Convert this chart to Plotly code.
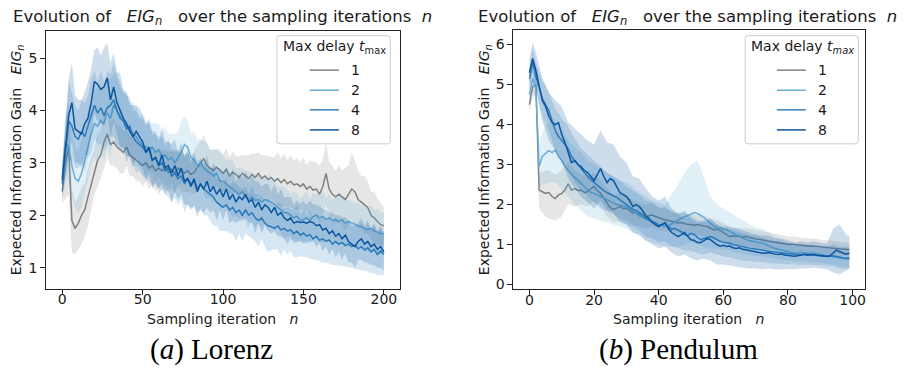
import plotly.graph_objects as go

W, H = 904, 368

# ---------------- Lorenz (x = 0..200 step 2) ----------------
lorenz_x = list(range(0, 201, 2))

lorenz_t1 = [2.45, 3.0, 3.3, 1.9, 1.75, 1.85, 2.0, 2.1, 2.35, 2.6,
             2.85, 3.05, 3.15, 3.4, 3.55, 3.35, 3.4, 3.3, 3.25, 3.2,
             3.3, 3.15, 3.1, 3.05, 3.0, 2.95, 3.0, 2.9, 2.95, 2.85,
             2.9, 2.85, 2.9, 2.82, 2.88, 2.8, 2.9, 2.85, 2.8, 2.85,
             2.78, 2.82, 2.9, 3.0, 3.08, 2.95, 2.9, 2.85, 2.92, 2.85,
             2.8, 2.88, 2.75, 2.82, 2.78, 2.72, 2.8, 2.75, 2.7, 2.78,
             2.72, 2.8, 2.7, 2.75, 2.68, 2.72, 2.65, 2.7, 2.62, 2.68,
             2.6, 2.65, 2.58, 2.6, 2.55, 2.6, 2.5, 2.55, 2.48, 2.5,
             2.4, 2.55, 2.8, 2.5, 2.4, 2.35, 2.4, 2.35, 2.3, 2.4,
             2.5, 2.45, 2.3, 2.25, 2.2, 2.15, 2.0, 1.95, 1.88, 1.82,
             1.8]
lorenz_t2 = [2.73, 3.4, 3.3, 2.95, 2.7, 2.65, 2.8, 3.05, 3.35, 3.55,
             3.75, 3.7, 3.8, 3.75, 3.95, 3.85, 4.1, 4.0, 3.9, 3.8,
             3.7, 3.65, 3.55, 3.5, 3.4, 3.35, 3.3, 3.25, 3.3, 3.2,
             3.25, 3.1, 3.15, 3.05, 3.1, 3.0, 3.1, 3.2, 3.35, 3.3,
             3.1, 3.05, 2.95, 3.0, 2.9, 2.85, 2.8, 2.75, 2.8, 2.65,
             2.65, 2.6, 2.55, 2.5, 2.45, 2.4, 2.45, 2.35, 2.3, 2.35,
             2.28, 2.3, 2.25, 2.3, 2.28, 2.25, 2.2, 2.15, 2.1, 2.05,
             2.05, 2.0, 1.95, 1.98, 1.9, 1.92, 1.95, 1.9, 1.98, 2.0,
             1.95, 1.98, 1.92, 1.95, 1.9, 1.92, 1.88, 1.92, 1.85, 1.88,
             1.85, 1.82, 1.8, 1.78, 1.75, 1.72, 1.75, 1.7, 1.68, 1.65,
             1.65]
lorenz_t4 = [2.6, 3.2, 3.8, 3.7, 3.5, 3.45, 3.6, 3.5, 3.7, 3.9,
             4.1, 3.95, 4.05, 3.9, 4.05, 4.1, 4.2, 4.0, 3.85, 3.8,
             3.65, 3.7, 3.5, 3.4, 3.35, 3.3, 3.2, 3.25, 3.05, 3.1,
             2.95, 3.0, 2.85, 2.9, 2.75, 2.8, 2.7, 2.75, 2.6, 2.7,
             2.6, 2.65, 2.5, 2.6, 2.5, 2.45, 2.4, 2.35, 2.25, 2.2,
             2.15, 2.2, 2.1, 2.15, 2.05, 2.1, 2.0, 2.1, 2.0, 2.05,
             1.95, 1.9, 1.95, 1.85, 1.8, 1.78, 1.75, 1.8, 1.72, 1.75,
             1.7, 1.72, 1.65, 1.7, 1.62, 1.66, 1.6, 1.63, 1.55, 1.6,
             1.52, 1.55, 1.5, 1.53, 1.45, 1.5, 1.45, 1.48, 1.42, 1.45,
             1.4, 1.43, 1.36, 1.4, 1.34, 1.38, 1.3, 1.35, 1.25, 1.32,
             1.25]
lorenz_t8 = [2.67, 3.3, 3.9, 4.15, 3.65, 3.6, 3.55, 3.75, 3.85, 4.15,
             4.55, 4.5, 4.4, 4.45, 4.62, 4.2, 4.45, 4.15, 4.0, 3.85,
             3.75, 3.6, 3.5, 3.6, 3.5, 3.4, 3.2, 3.3, 3.05, 3.1,
             2.95, 3.15, 2.9, 2.95, 2.8, 2.95, 2.75, 2.9, 2.65, 2.7,
             2.55, 2.7, 2.45, 2.6, 2.5, 2.65, 2.45, 2.55, 2.4, 2.5,
             2.35, 2.5, 2.3, 2.4, 2.25, 2.35, 2.3, 2.4, 2.25, 2.3,
             2.15, 2.25, 2.1, 2.2, 2.15, 2.05, 2.15, 2.0, 2.05, 1.95,
             1.9, 1.95, 1.85, 1.88, 1.86, 1.87, 1.85, 1.88, 1.86, 1.8,
             1.82, 1.72, 1.75, 1.65, 1.7, 1.6, 1.65, 1.55, 1.62, 1.5,
             1.45, 1.4, 1.5, 1.55, 1.45, 1.5, 1.4, 1.45, 1.35, 1.4,
             1.3]

# confidence band half-widths
lorenz_s1 = [.2, .7, .9, .6, .5, .5, .55, .5, .55, .5,
             .45, .5, .45, .5, .45, .4, .45, .4, .45, .4,
             .35, .4, .35, .4, .35, .4, .35, .4, .35, .4,
             .35, .4, .35, .4, .35, .4, .35, .4, .35, .4,
             .35, .4, .45, .4, .45, .4, .35, .4, .35, .4,
             .35, .4, .35, .4, .35, .4, .35, .4, .45, .4,
             .45, .4, .45, .4, .45, .4, .45, .5, .45, .5,
             .45, .5, .45, .5, .45, .5, .45, .5, .55, .5,
             .55, .5, .6, .5, .55, .5, .55, .5, .6, .55,
             .7, .6, .55, .5, .55, .5, .45, .5, .45, .4,
             .35]
lorenz_s2 = [.3, .55, .7, .6, .55, .6, .65, .6, .7, .6,
             .65, .75, .6, .7, .65, .75, .6, .7, .65, .55,
             .6, .5, .6, .55, .5, .6, .5, .55, .45, .55,
             .5, .45, .55, .5, .45, .55, .5, .6, .55, .5,
             .45, .55, .5, .45, .5, .55, .45, .5, .45, .55,
             .5, .45, .5, .55, .45, .5, .45, .5, .55, .45,
             .5, .45, .5, .4, .5, .45, .5, .4, .45, .5,
             .45, .4, .5, .45, .4, .45, .5, .4, .45, .4,
             .45, .5, .4, .45, .4, .45, .5, .4, .45, .4,
             .45, .4, .45, .4, .45, .4, .45, .4, .45, .4,
             .4]
lorenz_s4 = [.3, .6, .75, .65, .6, .55, .6, .65, .6, .7,
             .65, .6, .7, .65, .7, .6, .7, .65, .6, .55,
             .65, .55, .5, .6, .5, .55, .5, .6, .5, .45,
             .55, .5, .45, .55, .5, .45, .5, .45, .55, .5,
             .45, .5, .55, .45, .5, .45, .5, .55, .45, .5,
             .45, .5, .45, .5, .55, .45, .5, .45, .4, .5,
             .45, .5, .4, .45, .5, .45, .4, .45, .5, .4,
             .45, .4, .45, .5, .4, .45, .4, .45, .4, .45,
             .4, .45, .4, .45, .4, .45, .4, .45, .4, .45,
             .4, .45, .4, .45, .4, .45, .4, .45, .4, .45,
             .4]
lorenz_s8 = [.3, .55, .7, .75, .65, .6, .65, .6, .7, .65,
             .6, .7, .65, .75, .65, .7, .65, .6, .7, .55,
             .6, .5, .6, .5, .55, .5, .55, .45, .55, .5,
             .45, .55, .5, .45, .55, .5, .45, .5, .45, .5,
             .45, .5, .4, .5, .45, .5, .4, .45, .5, .4,
             .45, .4, .45, .5, .4, .45, .4, .45, .4, .45,
             .5, .4, .45, .4, .45, .4, .45, .4, .45, .4,
             .45, .4, .35, .4, .35, .4, .35, .4, .35, .4,
             .35, .4, .35, .4, .35, .4, .35, .4, .35, .4,
             .35, .4, .35, .4, .35, .4, .35, .4, .35, .4,
             .35]

# ---------------- Pendulum (x = 0..99) ----------------
pend_x = list(range(0, 100))

pend_t1 = [4.5, 4.95, 5.0, 2.36, 2.32, 2.28, 2.3, 2.2, 2.15, 2.24,
           2.28, 2.36, 2.52, 2.36, 2.4, 2.35, 2.36, 2.3, 2.32, 2.4,
           2.45, 2.35, 2.28, 2.15, 2.03, 1.92, 1.87, 1.92, 1.95, 1.9,
           1.91, 1.85, 1.79, 1.78, 1.76, 1.72, 1.7, 1.72, 1.74, 1.7,
           1.66, 1.64, 1.62, 1.6, 1.58, 1.56, 1.54, 1.55, 1.52, 1.5,
           1.5, 1.48, 1.5, 1.47, 1.46, 1.45, 1.4, 1.37, 1.38, 1.36,
           1.3, 1.25, 1.2, 1.22, 1.2, 1.21, 1.19, 1.2, 1.18, 1.15,
           1.14, 1.13, 1.12, 1.1, 1.08, 1.07, 1.05, 1.04, 1.03, 1.02,
           1.0, 1.01, 1.0, 0.99, 0.98, 0.98, 0.97, 0.96, 0.96, 0.95,
           0.94, 0.93, 0.92, 0.92, 0.91, 0.9, 0.89, 0.88, 0.88, 0.87]
pend_t2 = [4.75, 5.15, 4.9, 2.95, 3.2, 3.28, 3.35, 3.3, 3.36, 3.2,
           3.1, 2.95, 2.85, 2.75, 2.68, 2.6, 2.53, 2.45, 2.36, 2.3,
           2.28, 2.24, 2.2, 2.15, 2.12, 2.08, 2.03, 2.0, 1.98, 1.96,
           1.95, 1.9, 1.85, 1.78, 1.72, 1.68, 1.65, 1.6, 1.55, 1.52,
           1.5, 1.48, 1.45, 1.47, 1.52, 1.55, 1.6, 1.65, 1.7, 1.72,
           1.76, 1.8, 1.78, 1.74, 1.68, 1.6, 1.52, 1.46, 1.42, 1.4,
           1.38, 1.37, 1.33, 1.28, 1.24, 1.2, 1.16, 1.12, 1.1, 1.08,
           1.06, 1.05, 1.04, 1.0, 0.96, 0.93, 0.9, 0.88, 0.86, 0.84,
           0.82, 0.8, 0.79, 0.79, 0.8, 0.79, 0.78, 0.78, 0.78, 0.77,
           0.75, 0.74, 0.72, 0.71, 0.7, 0.68, 0.66, 0.65, 0.64, 0.63]
pend_t4 = [5.15, 5.55, 5.2, 4.9, 4.65, 4.5, 4.35, 4.1, 3.85, 3.7,
           3.6, 3.5, 3.4, 3.2, 3.1, 3.0, 2.88, 2.8, 2.7, 2.62,
           2.55, 2.48, 2.4, 2.35, 2.3, 2.25, 2.22, 2.18, 2.12, 2.05,
           1.98, 1.92, 1.88, 1.85, 1.8, 1.75, 1.65, 1.62, 1.6, 1.55,
           1.47, 1.5, 1.52, 1.45, 1.38, 1.4, 1.36, 1.32, 1.25, 1.22,
           1.28, 1.25, 1.18, 1.12, 1.15, 1.18, 1.2, 1.17, 1.12, 1.08,
           1.06, 1.05, 1.03, 1.0, 0.98, 0.96, 0.94, 0.92, 0.91, 0.9,
           0.89, 0.88, 0.87, 0.85, 0.83, 0.82, 0.81, 0.8, 0.79, 0.78,
           0.77, 0.76, 0.75, 0.75, 0.74, 0.76, 0.75, 0.74, 0.74, 0.73,
           0.72, 0.72, 0.71, 0.7, 0.72, 0.7, 0.68, 0.67, 0.66, 0.67]
pend_t8 = [5.3, 5.65, 5.35, 4.95, 4.6, 4.45, 4.2, 4.05, 4.0, 4.05,
           3.75, 3.55, 3.3, 3.05, 3.1, 3.0, 2.95, 2.85, 2.8, 2.7,
           2.6, 2.75, 2.9, 2.7, 2.55, 2.65, 2.6, 2.45, 2.3, 2.25,
           2.2, 2.1, 1.95, 2.0, 1.95, 1.85, 1.72, 1.65, 1.55, 1.5,
           1.45, 1.5, 1.55, 1.4, 1.3, 1.25, 1.2, 1.25, 1.3, 1.2,
           1.12, 1.1, 1.05, 1.05, 1.1, 1.15, 1.12, 1.05, 1.0, 0.96,
           0.98, 0.95, 0.96, 0.92, 0.9, 0.92, 0.88, 0.87, 0.85, 0.84,
           0.82, 0.8, 0.79, 0.78, 0.8, 0.77, 0.76, 0.75, 0.76, 0.74,
           0.73, 0.72, 0.71, 0.72, 0.74, 0.75, 0.73, 0.74, 0.75, 0.73,
           0.72, 0.71, 0.7, 0.72, 0.78, 0.86, 0.82, 0.78, 0.76, 0.78]

# band bounds sampled at these iterations
pend_band_x = [0, 1, 2, 3, 4, 5, 6] + list(range(8, 99, 2)) + [99]

pend_lo1 = ([4.3, 4.7, 4.75, 1.9, 1.8, 1.7, 1.65]
            + [1.6, 1.7, 2.0, 1.95, 2.0, 1.95, 2.1, 1.95, 1.7, 1.55]
            + [1.6, 1.6, 1.5, 1.45, 1.4, 1.45, 1.35, 1.35, 1.3, 1.28]
            + [1.25, 1.25, 1.25, 1.2, 1.15, 1.12, 1.05, 0.98, 0.98, 0.97]
            + [0.95, 0.92, 0.9, 0.87, 0.85, 0.84, 0.82, 0.82, 0.8, 0.78]
            + [0.78, 0.77, 0.75, 0.74, 0.72, 0.7] + [0.7])
pend_hi1 = ([4.7, 5.2, 5.25, 2.8, 2.8, 2.85, 2.85]
            + [2.75, 2.85, 3.05, 2.85, 2.75, 2.7, 2.8, 2.6, 2.4, 2.2]
            + [2.3, 2.25, 2.1, 2.05, 2.0, 2.05, 1.95, 1.9, 1.85, 1.8]
            + [1.78, 1.75, 1.75, 1.72, 1.65, 1.62, 1.55, 1.42, 1.42, 1.4]
            + [1.4, 1.36, 1.34, 1.3, 1.27, 1.24, 1.2, 1.2, 1.17, 1.16]
            + [1.15, 1.12, 1.1, 1.09, 1.07, 1.06] + [1.05])
pend_lo2 = ([4.4, 4.85, 4.5, 2.4, 2.5, 2.5, 2.55]
            + [2.55, 2.4, 2.2, 2.0, 1.85, 1.7, 1.65, 1.6, 1.55, 1.5]
            + [1.45, 1.4, 1.3, 1.2, 1.1, 1.05, 1.0, 0.95, 0.95, 0.95]
            + [1.0, 1.05, 1.0, 0.95, 0.9, 0.9, 0.88, 0.85, 0.8, 0.78]
            + [0.75, 0.72, 0.7, 0.68, 0.65, 0.62, 0.6, 0.58, 0.58, 0.57]
            + [0.56, 0.55, 0.52, 0.5, 0.46, 0.44] + [0.43])
pend_hi2 = ([5.1, 5.5, 5.3, 3.5, 3.8, 3.95, 4.05]
            + [4.1, 3.9, 3.6, 3.45, 3.3, 3.1, 3.0, 2.9, 2.8, 2.7]
            + [2.6, 2.55, 2.45, 2.3, 2.2, 2.1, 2.05, 2.0, 2.25, 2.5]
            + [2.8, 3.0, 3.1, 2.7, 2.2, 2.0, 1.9, 1.8, 1.7, 1.6]
            + [1.5, 1.42, 1.4, 1.3, 1.2, 1.12, 1.05, 1.0, 1.02, 1.0]
            + [1.0, 0.98, 0.95, 0.95, 0.9, 0.88] + [0.86])
pend_lo4 = ([4.85, 5.2, 4.85, 4.5, 4.2, 4.0, 3.85]
            + [3.35, 3.05, 2.85, 2.55, 2.35, 2.2, 2.05, 1.9, 1.85, 1.75]
            + [1.65, 1.5, 1.45, 1.35, 1.2, 1.15, 1.05, 1.08, 0.95, 0.92]
            + [0.85, 0.85, 0.78, 0.75, 0.8, 0.75, 0.7, 0.68, 0.64, 0.6]
            + [0.58, 0.57, 0.56, 0.54, 0.52, 0.51, 0.5, 0.5, 0.49, 0.5]
            + [0.49, 0.48, 0.47, 0.45, 0.4, 0.38] + [0.4])
pend_hi4 = ([5.45, 5.9, 5.55, 5.3, 5.1, 4.95, 4.8]
            + [4.4, 4.15, 3.95, 3.65, 3.4, 3.25, 3.1, 2.95, 2.8, 2.7]
            + [2.6, 2.45, 2.35, 2.25, 2.1, 2.05, 1.9, 1.95, 1.8, 1.78]
            + [1.65, 1.7, 1.6, 1.55, 1.6, 1.5, 1.42, 1.38, 1.32, 1.28]
            + [1.25, 1.22, 1.18, 1.12, 1.1, 1.07, 1.04, 1.0, 0.99, 1.0]
            + [0.99, 0.96, 0.95, 1.0, 0.95, 0.94] + [0.94])
pend_lo8 = ([4.95, 5.3, 4.95, 4.45, 4.05, 3.85, 3.6]
            + [3.35, 3.1, 2.65, 2.4, 2.2, 2.05, 1.9, 2.1, 1.85, 1.8]
            + [1.55, 1.5, 1.3, 1.25, 1.1, 1.0, 0.9, 0.95, 0.8, 0.7]
            + [0.75, 0.65, 0.6, 0.65, 0.6, 0.5, 0.5, 0.48, 0.45, 0.42]
            + [0.4, 0.4, 0.38, 0.4, 0.38, 0.38, 0.38, 0.38, 0.4, 0.4]
            + [0.42, 0.4, 0.38, 0.3, 0.25, 0.35] + [0.4])
pend_hi8 = ([5.65, 6.05, 5.8, 5.45, 5.15, 5.0, 4.8]
            + [4.6, 4.45, 4.05, 3.9, 3.75, 3.6, 3.5, 3.85, 3.55, 3.5]
            + [3.2, 3.05, 2.7, 2.65, 2.4, 2.2, 2.1, 2.2, 1.9, 1.75]
            + [1.85, 1.65, 1.55, 1.6, 1.65, 1.5, 1.45, 1.45, 1.4, 1.35]
            + [1.3, 1.25, 1.22, 1.22, 1.16, 1.15, 1.1, 1.06, 1.08, 1.06]
            + [1.08, 1.05, 1.02, 1.4, 1.5, 1.25] + [1.2])

series_names = ["1", "2", "4", "8"]
colors = ["#808080", "#6aaed6", "#3383c0", "#0b559f"]
fills = ["rgba(128,128,128,0.2)", "rgba(106,174,214,0.2)",
         "rgba(51,131,192,0.2)", "rgba(11,85,159,0.2)"]

FONT = "DejaVu Sans"
fig = go.Figure()

# Lorenz traces
lor_means = [lorenz_t1, lorenz_t2, lorenz_t4, lorenz_t8]
lor_spreads = [lorenz_s1, lorenz_s2, lorenz_s4, lorenz_s8]
for name, m, s, c, f in zip(series_names, lor_means, lor_spreads, colors, fills):
    up = [a + b for a, b in zip(m, s)]
    lo = [a - b for a, b in zip(m, s)]
    fig.add_trace(go.Scatter(x=lorenz_x + lorenz_x[::-1], y=up + lo[::-1],
                             fill="toself", fillcolor=f, line=dict(width=0),
                             mode="lines", hoverinfo="skip", showlegend=False,
                             xaxis="x", yaxis="y"))
    fig.add_trace(go.Scatter(x=lorenz_x, y=m, mode="lines", name=name,
                             line=dict(color=c, width=1.5), showlegend=False,
                             xaxis="x", yaxis="y"))

# Pendulum traces
pen_means = [pend_t1, pend_t2, pend_t4, pend_t8]
pen_lo = [pend_lo1, pend_lo2, pend_lo4, pend_lo8]
pen_hi = [pend_hi1, pend_hi2, pend_hi4, pend_hi8]
for name, m, lo, hi, c, f in zip(series_names, pen_means, pen_lo, pen_hi, colors, fills):
    fig.add_trace(go.Scatter(x=pend_band_x + pend_band_x[::-1], y=hi + lo[::-1],
                             fill="toself", fillcolor=f, line=dict(width=0),
                             mode="lines", hoverinfo="skip", showlegend=False,
                             xaxis="x2", yaxis="y2"))
    fig.add_trace(go.Scatter(x=pend_x, y=m, mode="lines", name=name,
                             line=dict(color=c, width=1.5), showlegend=False,
                             xaxis="x2", yaxis="y2"))


def px(x):
    return x / W


def py(y):
    return 1 - y / H


axis_common = dict(showline=True, mirror=True, linecolor="#222", linewidth=1,
                   ticks="outside", ticklen=5, tickwidth=1, tickcolor="#222",
                   showgrid=False, zeroline=False,
                   tickfont=dict(family=FONT, size=14, color="#1a1a1a"))

fig.update_layout(
    width=W, height=H, autosize=False,
    margin=dict(l=0, r=0, t=0, b=0),
    paper_bgcolor="white", plot_bgcolor="white",
    showlegend=False,
    xaxis=dict(domain=[px(46.2), px(400.4)], range=[-10, 210], anchor="y",
               tickvals=[0, 50, 100, 150, 200], ticklabelstandoff=-7, **axis_common),
    yaxis=dict(domain=[py(291), py(31)], range=[0.6, 5.52], anchor="x",
               tickvals=[1, 2, 3, 4, 5], **axis_common),
    xaxis2=dict(domain=[px(514), px(866.3)], range=[-4.95, 103.95], anchor="y2",
                tickvals=[0, 20, 40, 60, 80, 100], ticklabelstandoff=-7, **axis_common),
    yaxis2=dict(domain=[py(291.7), py(30)], range=[-0.12, 6.37], anchor="x2",
                tickvals=[0, 1, 2, 3, 4, 5, 6], **axis_common),
)

NB = "\u00a0"
ann = []


def text(x, y, s, size=14, family=FONT, angle=0, xanchor="center", color="#1a1a1a"):
    ann.append(dict(x=px(x), y=py(y), xref="paper", yref="paper", text=s,
                    showarrow=False, textangle=angle, xanchor=xanchor,
                    yanchor="middle", font=dict(family=family, size=size, color=color)))


title = ("Evolution of" + NB * 3 + "<i>EIG<sub>n</sub></i>" + NB * 3
         + "over the sampling iterations" + NB * 2 + "<i>n</i>")
text(222.5, 17.5, title, size=16.5)
text(688.7, 17.5, title, size=16.5)

ylab = "Expected Information Gain" + NB * 3 + "<i>EIG<sub>n</sub></i>"
text(16.7, 161, ylab, angle=-90)
text(485, 161, ylab, angle=-90)

xlab = "Sampling iteration" + NB * 3 + "<i>n</i>"
text(222.5, 321.5, xlab)
text(689, 321.5, xlab)

text(211.7, 352, "(<i>a</i>) Lorenz", size=29, family="Liberation Serif", color="black")
text(679.7, 352, "(<i>b</i>) Pendulum", size=29, family="Liberation Serif", color="black")

shapes = []


def legend(x0, y0, x1, y1, title_html, tx, line_x0, line_x1, label_x):
    r = 3
    pts = [("M", x0 + r, y0), ("L", x1 - r, y0), ("Q", x1, y0, x1, y0 + r),
           ("L", x1, y1 - r), ("Q", x1, y1, x1 - r, y1), ("L", x0 + r, y1),
           ("Q", x0, y1, x0, y1 - r), ("L", x0, y0 + r), ("Q", x0, y0, x0 + r, y0)]
    path = ""
    for p in pts:
        cmd = p[0]
        coords = p[1:]
        seg = []
        for i in range(0, len(coords), 2):
            seg.append(f"{px(coords[i]):.5f},{py(coords[i + 1]):.5f}")
        path += cmd + " " + " ".join(seg) + " "
    path += "Z"
    shapes.append(dict(type="path", path=path, xref="paper", yref="paper",
                       fillcolor="rgba(255,255,255,0.8)",
                       line=dict(color="#cccccc", width=1), layer="above"))
    text(tx, 47.5, title_html)
    rows = [70.7, 91, 110.7, 131]
    for name, c, ry in zip(series_names, colors, rows):
        shapes.append(dict(type="line", xref="paper", yref="paper",
                           x0=px(line_x0), x1=px(line_x1), y0=py(ry), y1=py(ry),
                           line=dict(color=c, width=1.5), layer="above"))
        text(label_x, ry, name, xanchor="left")


legend(277.3, 36, 390.7, 145, "Max delay <i>t</i><sub>max</sub>", 334.5, 310, 339.3, 349)
legend(746, 36, 859.3, 145, "Max delay <i>t<sub>max</sub></i>", 803, 777.7, 806.7, 817)

fig.update_layout(annotations=ann, shapes=shapes)

fig.write_html("out.html", config={"displayModeBar": False},
               post_script="document.body.style.margin='0';")
